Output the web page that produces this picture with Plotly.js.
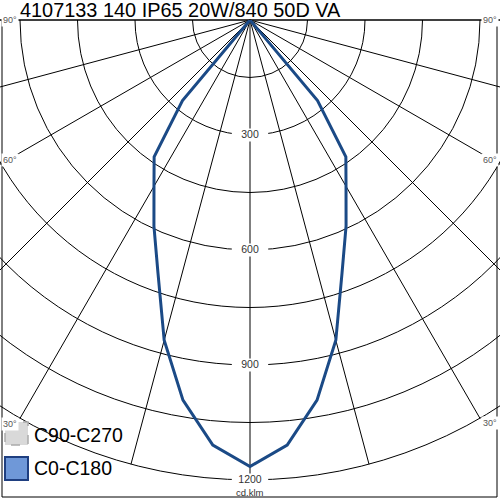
<!DOCTYPE html>
<html>
<head>
<meta charset="utf-8">
<script src="https://cdn.plot.ly/plotly-3.0.1.min.js"></script>
<style>
  html, body { margin: 0; padding: 0; width: 500px; height: 500px; overflow: hidden; background: #fff; }
  #wrap { position: absolute; left: -250px; top: 0; width: 1000px; height: 500px; }
</style>
</head>
<body>
<div id="wrap"></div>
<script>
// ---- data ----
const chartTitle = "4107133 140 IP65 20W/840 50D VA";
const seriesNames = ["C90-C270", "C0-C180"];
const gammaAngles = [-90, -50, -45, -40, -35, -30, -25, -20, -15, -10, -5, 0, 5, 10, 15, 20, 25, 30, 35, 40, 45, 50, 90];
const c0c180 =     [0, 0, 0, 274, 436, 501, 593, 702, 865, 1007, 1113, 1165, 1113, 1007, 865, 702, 593, 501, 436, 274, 0, 0, 0];
const c90c270 =    [0, 0, 0, 274, 436, 501, 593, 702, 865, 1007, 1113, 1165, 1113, 1007, 865, 702, 593, 501, 436, 274, 0, 0, 0];
const radialTickVals = [300, 600, 900, 1200];
const radialTickText = ["300", "600", "900", "1200"];
const unitLabel = "cd.klm";
const angleLabels = ["90°", "60°", "30°"];

// ---- styling ----
const FONT = "Liberation Sans, Arial, sans-serif";
const blue = "#1b4a86";

const traces = [
  {
    type: "scatterpolar", mode: "lines", name: seriesNames[0],
    theta: gammaAngles, r: c90c270,
    line: { color: "#b0b0b0", width: 1, dash: "dash" },
    showlegend: false, hoverinfo: "skip"
  },
  {
    type: "scatterpolar", mode: "lines", name: seriesNames[1],
    theta: gammaAngles, r: c0c180,
    line: { color: blue, width: 3 },
    showlegend: false, hoverinfo: "skip"
  },
  {
    type: "scatterpolar", mode: "markers+text",
    theta: radialTickVals.map(() => 0), r: radialTickVals,
    text: radialTickText, textposition: "middle center",
    textfont: { family: FONT, size: 10.5, color: "#333" },
    marker: { symbol: "line-ew", size: 26, color: "#fff", line: { color: "#fff", width: 13 } },
    showlegend: false, hoverinfo: "skip", cliponaxis: false
  }
];

// pixel helpers relative to the polar centre (page x 250, y 20)
function ann(text, dx, dy, size, color, xanchor, bg) {
  const a = {
    text: text, xref: "paper", yref: "paper", x: 0.5, y: 1,
    xshift: dx, yshift: -dy, xanchor: xanchor || "center", yanchor: "middle",
    showarrow: false, font: { family: FONT, size: size, color: color }
  };
  if (bg) { a.bgcolor = bg; a.borderpad = 1; }
  return a;
}

const annotations = [
  ann(angleLabels[0], -240, 0, 9, "#555", "center", "#fff"),
  ann(angleLabels[0], 240, 0, 9, "#555", "center", "#fff"),
  ann(angleLabels[1], -240, 140, 9, "#555", "center", "#fff"),
  ann(angleLabels[1], 240, 140, 9, "#555", "center", "#fff"),
  ann(angleLabels[2], -240, 404, 9, "#555", "center", "#fff"),
  ann(angleLabels[2], 240, 403, 9, "#555", "center", "#fff"),
  ann(unitLabel, 0, 472, 9.5, "#333"),
  ann(seriesNames[0], -218, 415, 19.5, "#000", "left"),
  ann(seriesNames[1], -218, 448, 19.5, "#000", "left")
];

function pxShape(extra) {
  return Object.assign({
    xref: "paper", yref: "paper", xsizemode: "pixel", ysizemode: "pixel",
    xanchor: 0.5, yanchor: 1
  }, extra);
}

const shapes = [
  pxShape({ type: "path", path: "M -248 0 L -248 -477 L 247 -477 L 247 0", line: { color: "#000", width: 1 } }),
  pxShape({ type: "rect", x0: -245, x1: -222, y0: -402, y1: -425, fillcolor: "#d9d9d9", line: { color: "#aaa", width: 1.5, dash: "dash" } }),
  pxShape({ type: "rect", x0: -245, x1: -222, y0: -437, y1: -460, fillcolor: "#6f98d8", line: { color: "#1f3f80", width: 2 } })
];

const layout = {
  width: 1000, height: 500,
  margin: { l: 40, r: 40, t: 20, b: 20, pad: 0 },
  paper_bgcolor: "#fff",
  showlegend: false,
  title: {
    text: chartTitle, xref: "container", yref: "container",
    x: 0.27, xanchor: "left", y: 0.98, yanchor: "middle",
    pad: { t: 0, b: 0, l: 0, r: 0 },
    font: { family: FONT, size: 19.9, color: "#000" }
  },
  polar: {
    domain: { x: [0, 1], y: [0, 1] },
    sector: [180, 360],
    bgcolor: "#fff",
    hole: 0,
    radialaxis: {
      range: [0, 1200], dtick: 150, tick0: 0,
      showgrid: true, gridcolor: "#000", gridwidth: 1,
      showline: false, ticks: "", showticklabels: false,
      layer: "below traces"
    },
    angularaxis: {
      rotation: -90, direction: "counterclockwise",
      dtick: 15, tick0: 0,
      showgrid: true, gridcolor: "#000", gridwidth: 1,
      showline: true, linecolor: "#000", linewidth: 1,
      ticks: "", showticklabels: false,
      layer: "below traces"
    }
  },
  annotations: annotations,
  shapes: shapes
};

Plotly.newPlot("wrap", traces, layout, { staticPlot: true, displayModeBar: false });
</script>
</body>
</html>
